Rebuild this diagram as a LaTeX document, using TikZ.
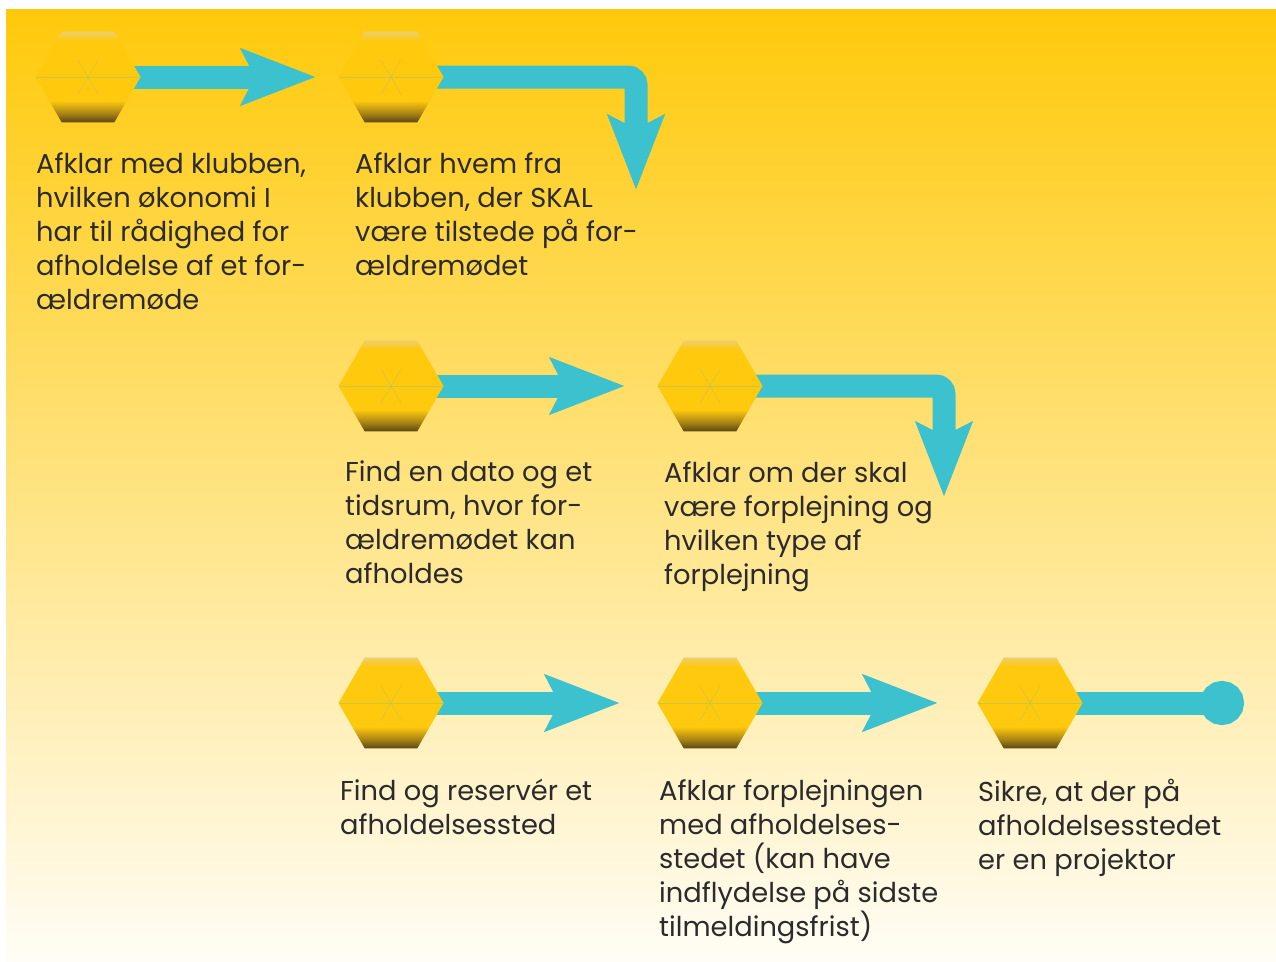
\documentclass[tikz,border=0pt]{standalone}
\usepackage{fontspec}
\setmainfont{Poppins}
\usetikzlibrary{shapes.geometric}
\usetikzlibrary{arrows.meta}
\usetikzlibrary{backgrounds}

\definecolor{bgtop}{HTML}{FFC90A}
\definecolor{bgmid}{HTML}{FEDF72}
\definecolor{bgbot}{HTML}{FFFDF6}
\definecolor{flowcyan}{HTML}{3CC1CF}
\definecolor{hexgold}{HTML}{FFC90E}
\definecolor{hexmid}{HTML}{A88414}
\definecolor{hexdark}{HTML}{5A4614}
\definecolor{hexlight}{HTML}{EDCF68}
\definecolor{txt}{HTML}{2B2B2B}

\pgfdeclareverticalshading{hexshade}{100bp}{color(0bp)=(hexdark); color(25bp)=(hexdark); color(30bp)=(hexmid); color(37bp)=(hexgold); color(70bp)=(hexgold); color(75bp)=(hexlight); color(100bp)=(hexlight)}

\begin{document}
\begin{tikzpicture}[x=1pt,y=-1pt]
\tikzset{hexa/.style={regular polygon, regular polygon sides=6, minimum size=105pt,
    inner sep=0pt, outer sep=0pt, shading=hexshade},
  flow/.style={line width=23pt, flowcyan, -{Stealth[length=74pt,width=55pt,inset=13pt]}},
  lastflow/.style={line width=23pt, flowcyan, -{Circle[length=44pt]}},
  hexline/.style={draw=flowcyan!45!hexgold, line width=0.5pt, draw opacity=0.6},
  desc/.style={anchor=north west, align=left, inner sep=0pt, text=txt,
    font=\fontsize{27.3}{34}\selectfont}}

\useasboundingbox (0,0) rectangle (1276,961);

% hexagons
\foreach \n/\x/\y in {1/88/77, 2/391/77, 3/391/386, 4/710/386,
                      5/391/703, 6/710/703, 7/1030/703} {
\node[hexa] (h\n) at (\x,\y) {};
\draw[hexline] (h\n.west) -- (h\n.east);
\draw[hexline] ([shift={(-10,-17)}]h\n.center) -- ([shift={(10,17)}]h\n.center);
\draw[hexline] ([shift={(10,-17)}]h\n.center) -- ([shift={(-10,17)}]h\n.center);
}

% arrow ends
\coordinate (e1) at (316,77);
\coordinate (e2) at (636,190);
\coordinate (e3) at (625,386);
\coordinate (e4) at (944,497);
\coordinate (e5) at (620,703);
\coordinate (e6) at (938,703);
\coordinate (e7) at (1244,703);

\begin{scope}[on background layer]
\fill[white] (0,0) rectangle (1276,961);
\shade[top color=bgtop, middle color=bgmid, bottom color=bgbot] (6,9) rectangle (1276,961);
\draw[flow] (h1.center) -- (e1);
\draw[flow, rounded corners=8pt] (h2.center) -| (e2);
\draw[flow] (h3.center) -- (e3);
\draw[flow, rounded corners=8pt] (h4.center) -| (e4);
\draw[flow] (h5.center) -- (e5);
\draw[flow] (h6.center) -- (e6);
\draw[lastflow] (h7.center) -- (e7);
\end{scope}

% texts
\node[desc] (d1) at (36,152) {Afklar med klubben,\\hvilken økonomi I\\har til rådighed for\\afholdelse af et for-\\ældremøde};
\node[desc] (d2) at (355,152) {Afklar hvem fra\\klubben, der SKAL\\være tilstede på for-\\ældremødet};
\node[desc] (d3) at (345,461) {Find en dato og et\\tidsrum, hvor for-\\ældremødet kan\\afholdes};
\node[desc] (d4) at (664,461) {Afklar om der skal\\være forplejning og\\hvilken type af\\forplejning};
\node[desc] (d5) at (340,779) {Find og reservér et\\afholdelsessted};
\node[desc] (d6) at (659,779) {Afklar forplejningen\\med afholdelses-\\stedet (kan have\\indflydelse på sidste\\tilmeldingsfrist)};
\node[desc] (d7) at (978,779) {Sikre, at der på\\afholdelsesstedet\\er en projektor};

\end{tikzpicture}
\end{document}
